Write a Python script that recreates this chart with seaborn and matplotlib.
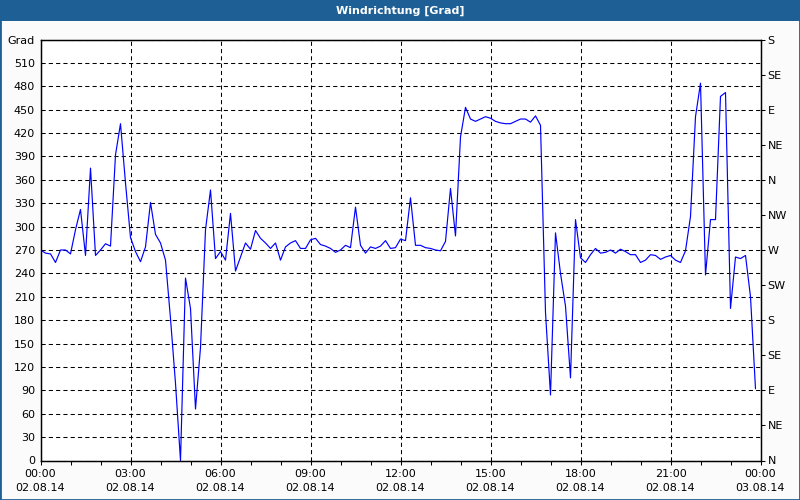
import numpy as np
import pandas as pd
import matplotlib
matplotlib.use("Agg")
import matplotlib.pyplot as plt
import matplotlib.dates as mdates
from matplotlib.patches import Rectangle
import seaborn as sns

# Windrichtung in Grad, 10-Minuten-Werte vom 02.08.14
direction = [
    270, 266, 265, 254, 270, 270, 265, 296, 322, 263,
    375, 263, 270, 278, 275, 392, 432, 356, 286, 268,
    255, 274, 331, 290, 279, 257, 182, 99, 0, 234,
    195, 66, 145, 296, 347, 259,
    268, 257, 317, 243, 261, 279, 271, 295, 285, 279,
    272, 279, 257, 274, 279, 282, 272, 272, 283, 285,
    277, 275, 272, 267, 270, 276, 273, 325, 276, 266,
    274, 272, 275, 282, 272, 273,
    284, 282, 337, 276, 276, 273, 272, 270, 269, 281,
    349, 288, 415, 453, 438, 435, 438, 441, 439, 435,
    433, 432, 432, 435, 438, 438, 434, 442, 430, 190,
    84, 292, 240, 198, 106, 309,
    260, 254, 264, 272, 266, 267, 270, 266, 271, 268,
    264, 264, 254, 257, 264, 263, 258, 261, 263, 257,
    254, 269, 313, 441, 484, 238, 309, 309, 467, 472,
    195, 261, 259, 263, 210, 92,
]
start_time = "2014-08-02 00:00"
end_time = "2014-08-03 00:00"
left_ticks = list(range(0, 541, 30))
left_labels = [str(v) for v in range(0, 511, 30)] + ["Grad"]
compass_ticks = list(range(0, 541, 45))
compass_labels = ["N", "NE", "E", "SE", "S", "SW", "W", "NW", "N", "NE", "E", "SE", "S"]

title_blue = "#1e6096"
dash = (0, (4, 3))

sns.set_theme(style="white")
plt.rcParams["font.family"] = ["DejaVu Sans"]
plt.rcParams["font.size"] = 8

times = pd.date_range(start_time, periods=len(direction), freq="10min")
df = pd.DataFrame({"time": times, "direction": direction})

fig = plt.figure(figsize=(8, 5), dpi=100, facecolor="#fafbfa")
ax = fig.add_axes([40.5 / 800, 39.5 / 500, 720 / 800, 421 / 500])
ax.set_facecolor("white")

sns.lineplot(data=df, x="time", y="direction", ax=ax, color="#0000ff", linewidth=0.85)

ax.set_xlim(pd.Timestamp(start_time), pd.Timestamp(end_time))
ax.set_ylim(0, 540)
ax.set_xlabel("")
ax.set_ylabel("")

ax.set_yticks(left_ticks)
ax.set_yticklabels(left_labels)
ax.xaxis.set_major_locator(mdates.HourLocator(byhour=range(0, 24, 3)))
ax.xaxis.set_minor_locator(mdates.HourLocator())
ax.xaxis.set_major_formatter(mdates.DateFormatter("%H:%M\n%d.%m.%y"))
for lbl in ax.get_xticklabels():
    lbl.set_linespacing(1.5)

ax.grid(True, which="major", axis="both", color="black", linestyle=dash, linewidth=0.75)
ax.tick_params(axis="x", which="both", direction="out", length=3, width=0.75,
               color="black", labelsize=8, labelcolor="black", pad=3, bottom=True)
ax.tick_params(axis="y", which="both", length=0, labelsize=8, labelcolor="black", pad=4, left=True)
for spine in ax.spines.values():
    spine.set_color("black")
    spine.set_linewidth(0.9)

# Kompassrichtungen rechts
ax2 = ax.twinx()
ax2.set_ylim(0, 540)
ax2.set_yticks(compass_ticks)
ax2.set_yticklabels(compass_labels)
ax2.tick_params(axis="y", direction="out", length=3, width=0.75, color="black",
                labelsize=8, labelcolor="black", pad=2, right=True)
for spine in ax2.spines.values():
    spine.set_color("black")
    spine.set_linewidth(0.9)

# Titelleiste und Rahmen
fig.patches.append(Rectangle((0, 1 - 21 / 500), 1, 21 / 500, transform=fig.transFigure,
                             facecolor=title_blue, edgecolor="none", zorder=0))
fig.text(0.5, 1 - 10.5 / 500, "Windrichtung [Grad]", color="white", fontweight="bold",
         fontsize=8, ha="center", va="center")
fig.patches.append(Rectangle((0, 0), 1, 1, transform=fig.transFigure, fill=False,
                             edgecolor=title_blue, linewidth=2, zorder=5))

fig.savefig("out.png", dpi=100, facecolor=fig.get_facecolor())
